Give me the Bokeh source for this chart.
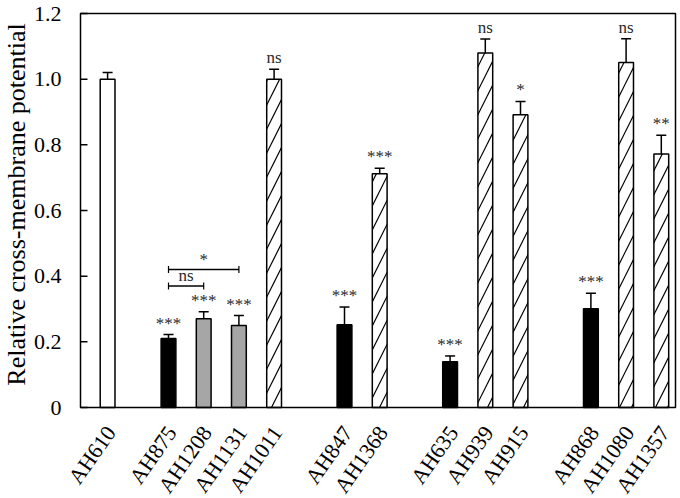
import math
from bokeh.plotting import figure
from bokeh.models import ColumnDataSource, Whisker, TeeHead, Range1d
from bokeh.embed import file_html
from bokeh.resources import INLINE
from bokeh.core.properties import value

# ---- data ----
strains = ["AH610", "AH875", "AH1208", "AH1131", "AH1011", "AH847", "AH1368",
           "AH635", "AH939", "AH915", "AH868", "AH1080", "AH1357"]
groups = [0, 1, 1, 1, 1, 2, 2, 3, 3, 3, 4, 4, 4]
means = [1.00, 0.21, 0.27, 0.25, 1.00, 0.252, 0.712, 0.139, 1.08, 0.892, 0.301, 1.051, 0.772]
errors = [0.02, 0.012, 0.022, 0.03, 0.03, 0.054, 0.017, 0.018, 0.042, 0.04, 0.047, 0.072, 0.057]
kinds = ["control", "mutant", "partial", "partial", "hatched", "mutant", "hatched",
         "mutant", "hatched", "hatched", "mutant", "hatched", "hatched"]
signif = ["", "***", "***", "***", "ns", "***", "***", "***", "ns", "*", "***", "ns", "**"]
comparisons = [("AH875", "AH1208", "ns", 0.37), ("AH875", "AH1131", "*", 0.42)]
y_ticks = [0, 0.2, 0.4, 0.6, 0.8, 1.0, 1.2]
y_tick_labels = ["0", "0.2", "0.4", "0.6", "0.8", "1.0", "1.2"]
y_label = "Relative cross-membrane potential"
Y_MAX = 1.2

# ---- layout (pixels) ----
W, H = 680, 498
FRAME_L, FRAME_R, FRAME_T, FRAME_B = 80, 675, 13, 407
SLOT_PX = 35.2
FIRST_X = 0.77
SECOND_START = 2.5
GROUP_GAP = 2.0
BAR_W = 0.42
TICK_PX = 7
FONT = "Liberation Serif"

px_x = SLOT_PX
px_y = (FRAME_B - FRAME_T) / Y_MAX
X_END = (FRAME_R - FRAME_L) / px_x

xs = []
prev_g = None
for i, g in enumerate(groups):
    if i == 0:
        xs.append(FIRST_X)
    elif g != prev_g:
        xs.append(SECOND_START if prev_g == groups[0] else xs[-1] + GROUP_GAP)
    else:
        xs.append(xs[-1] + 1.0)
    prev_g = g
xpos = dict(zip(strains, xs))

fill_map = {"control": "white", "mutant": "black", "partial": "#a6a6a6", "hatched": "white"}

p = figure(width=W, height=H, output_backend="svg", toolbar_location=None,
           x_range=Range1d(-FRAME_L / px_x, (W - FRAME_L) / px_x),
           y_range=Range1d(-(H - FRAME_B) / px_y, Y_MAX + FRAME_T / px_y),
           min_border=0, min_border_left=0, min_border_right=0,
           min_border_top=0, min_border_bottom=0)
p.axis.visible = False
p.xgrid.visible = False
p.ygrid.visible = False
p.outline_line_color = None
p.background_fill_color = "white"
p.border_fill_color = "white"

def build(kind):
    idx = [i for i, k in enumerate(kinds) if k == kind]
    return ColumnDataSource(dict(
        x=[xs[i] for i in idx],
        top=[means[i] for i in idx],
    ))

for kind in ["control", "mutant", "partial"]:
    p.vbar(x="x", top="top", width=BAR_W, bottom=0, source=build(kind),
           fill_color=fill_map[kind], line_color="black", line_width=1.5)
p.vbar(x="x", top="top", width=BAR_W, bottom=0, source=build("hatched"),
       fill_color="white", line_color="black", line_width=1.5,
       hatch_pattern="/", hatch_scale=24, hatch_color="black", hatch_weight=1.2)

err_src = ColumnDataSource(dict(
    x=xs, lower=means, upper=[m + e for m, e in zip(means, errors)],
    sig=signif,
))
p.add_layout(Whisker(base="x", lower="lower", upper="upper", source=err_src,
                     line_color="black", line_width=1.5, lower_head=None,
                     upper_head=TeeHead(size=10, line_color="black", line_width=1.5)))
p.text(x="x", y="upper", text="sig", source=err_src, text_align="center",
       text_baseline="bottom", y_offset=-2, text_font=value(FONT),
       text_font_size="17px", text_color="#2a2a2a")

# comparison brackets
br_src = ColumnDataSource(dict(
    y=[c[3] for c in comparisons],
    x0=[xpos[c[0]] for c in comparisons],
    x1=[xpos[c[1]] for c in comparisons],
    xm=[(xpos[c[0]] + xpos[c[1]]) / 2 for c in comparisons],
    lab=[c[2] for c in comparisons],
))
p.add_layout(Whisker(base="y", lower="x0", upper="x1", dimension="width", source=br_src,
                     line_color="black", line_width=1.5,
                     lower_head=TeeHead(size=7, line_color="black", line_width=1.2),
                     upper_head=TeeHead(size=7, line_color="black", line_width=1.2)))
p.text(x="xm", y="y", text="lab", source=br_src, text_align="center",
       text_baseline="bottom", y_offset=-1, text_font=value(FONT),
       text_font_size="17px", text_color="#2a2a2a")

# plot box
p.quad(left=[0], right=[X_END], bottom=[0], top=[Y_MAX], fill_color=None,
       line_color="black", line_width=1.5)

# y axis: inward ticks, labels, title
tick_src = ColumnDataSource(dict(y=y_ticks, lab=y_tick_labels))
p.segment(x0=0, x1=TICK_PX / px_x, y0="y", y1="y", source=tick_src,
          line_color="black", line_width=1.5)
p.text(x=0, y="y", text="lab", source=tick_src, text_align="right",
       text_baseline="middle", x_offset=-19, text_font=value(FONT),
       text_font_size="22px", text_color="black")
p.text(x=[0], y=[Y_MAX / 2], text=[y_label], angle=math.pi / 2, text_align="center",
       text_baseline="middle", x_offset=-64, y_offset=-6, text_font=value(FONT),
       text_font_size="26px", text_color="black")

# x category labels
lab_src = ColumnDataSource(dict(x=xs, name=strains))
p.text(x="x", y=0, text="name", source=lab_src, angle=math.radians(55),
       text_align="right", text_baseline="middle", x_offset=3, y_offset=21,
       text_font=value(FONT), text_font_size="22px", text_color="black")

open("out.html", "w").write(file_html(p, INLINE))
